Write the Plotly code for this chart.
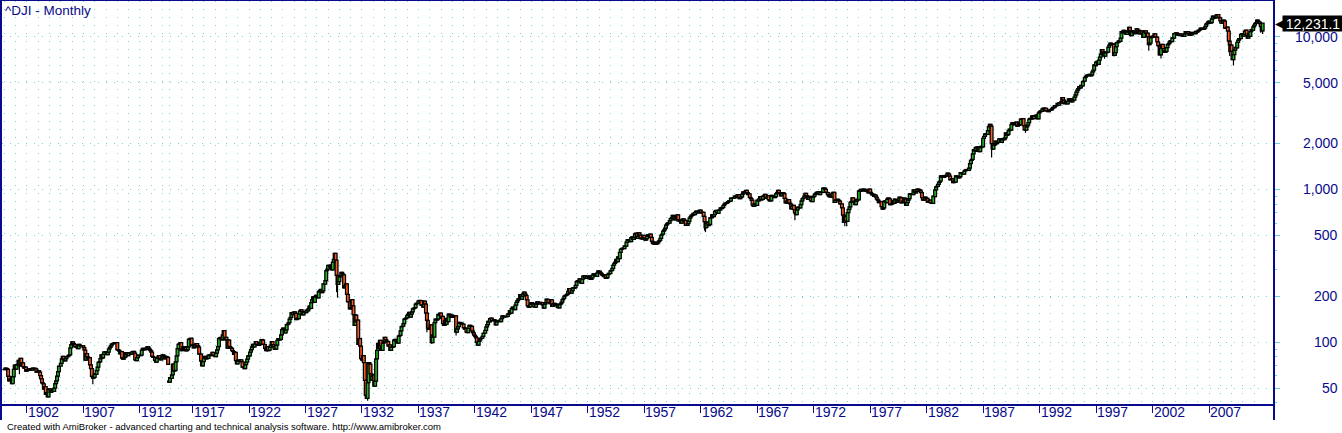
import math
import plotly.graph_objects as go

# ---------------- DATA (monthly closes of ^DJI, read/estimated from the chart) ----------------
close_1900s = [
    66.0, 67.5, 67.0, 66.2, 59.6, 55.8, 56.9, 57.5, 53.5, 59.3, 66.3, 70.7,      # 1900
    66.5, 71.0, 71.5, 75.9, 69.8, 78.3, 71.0, 73.0, 69.0, 67.5, 68.5, 64.6,      # 1901
    66.0, 65.3, 66.3, 66.8, 66.3, 65.5, 67.4, 67.0, 67.3, 66.8, 63.5, 64.3,      # 1902
    65.0, 63.5, 60.2, 57.5, 54.0, 53.3, 49.2, 51.0, 45.5, 46.6, 43.8, 49.1,      # 1903
    49.3, 46.8, 48.0, 48.5, 47.5, 50.0, 53.5, 55.8, 59.9, 64.0, 69.6, 69.6,      # 1904
    72.5, 77.6, 80.5, 77.0, 75.4, 77.9, 80.2, 80.2, 81.6, 82.5, 91.5, 96.2,      # 1905
    100.2, 97.8, 96.2, 93.5, 92.6, 92.5, 90.5, 96.7, 94.8, 94.6, 94.5, 94.4,     # 1906
    92.0, 88.5, 76.2, 84.0, 80.0, 77.5, 79.0, 71.0, 67.0, 59.6, 58.0, 58.8,      # 1907
    62.0, 61.5, 65.0, 68.5, 73.5, 74.5, 77.8, 82.5, 78.9, 83.0, 86.2, 86.2,      # 1908
    86.5, 82.7, 85.8, 90.2, 92.4, 94.5, 96.8, 97.8, 97.9, 99.0, 98.9, 99.1,      # 1909
]
close_1910s = [
    89.0, 88.5, 87.1, 83.7, 86.5, 78.5, 77.2, 79.2, 79.9, 85.2, 83.0, 81.4,      # 1910
    85.0, 85.2, 84.0, 83.2, 86.5, 86.8, 84.5, 76.5, 75.6, 79.0, 82.0, 81.7,      # 1911
    81.5, 82.0, 88.4, 91.0, 89.5, 89.0, 89.5, 91.5, 93.5, 91.2, 89.5, 87.9,      # 1912
    86.0, 80.5, 79.5, 79.5, 76.0, 74.0, 78.5, 79.5, 81.5, 78.0, 76.5, 78.8,      # 1913
    82.5, 81.0, 80.9, 77.5, 80.0, 79.5, 71.4, 54.6,                              # 1914 (Jan-Jul, Dec)
    58.5, 57.8, 61.0, 71.8, 64.5, 65.2, 74.3, 81.2, 90.6, 96.5, 97.5, 99.2,      # 1915
    88.0, 90.0, 93.5, 89.0, 92.5, 87.7, 89.0, 93.0, 104.0, 105.0, 105.9, 95.0,   # 1916
    95.5, 91.5, 96.7, 93.5, 97.5, 94.8, 92.5, 83.4, 83.5, 75.0, 69.9, 74.4,      # 1917
    78.5, 80.6, 77.5, 78.8, 78.1, 82.2, 81.5, 82.5, 83.0, 85.5, 81.5, 82.2,      # 1918
    80.3, 84.6, 89.0, 93.5, 105.5, 106.9, 107.2, 103.5, 111.4, 118.9, 103.6, 107.2,  # 1919
]
close_1920s = [
    103.9, 91.2, 102.8, 93.5, 91.8, 91.0, 87.8, 86.7, 82.9, 85.7, 75.5, 71.95,   # 1920
    76.1, 74.8, 75.8, 76.3, 74.2, 68.5, 68.4, 67.1, 71.1, 73.9, 77.3, 81.1,      # 1921
    81.3, 85.8, 89.1, 93.0, 96.4, 92.9, 96.4, 100.8, 96.6, 96.1, 95.2, 98.7,     # 1922
    96.9, 103.9, 102.8, 96.6, 96.3, 91.0, 88.0, 93.5, 87.9, 88.5, 92.7, 95.5,    # 1923
    100.7, 96.3, 93.2, 89.8, 89.9, 95.6, 102.6, 105.2, 103.2, 104.1, 111.4, 120.5,  # 1924
    123.6, 121.2, 115.0, 120.0, 129.9, 131.0, 133.8, 141.2, 145.0, 155.6, 151.1, 156.7,  # 1925
    157.4, 154.2, 140.5, 143.0, 142.3, 152.6, 159.6, 162.5, 158.2, 150.4, 156.6, 157.2,  # 1926
    155.7, 161.9, 160.1, 165.0, 172.0, 166.2, 181.4, 189.8, 197.6, 181.6, 197.7, 202.4,  # 1927
    198.9, 194.6, 213.5, 216.9, 220.9, 210.8, 216.0, 240.4, 239.4, 252.2, 293.4, 300.0,  # 1928
    317.5, 317.4, 308.9, 319.3, 297.4, 333.8, 347.7, 380.3, 343.5, 273.5, 238.95, 248.5,  # 1929
]
close_1930s = [
    267.1, 271.1, 286.1, 279.2, 275.1, 226.3, 233.5, 240.4, 204.9, 183.4, 183.4, 164.6,  # 1930
    167.6, 189.7, 172.4, 151.2, 128.5, 150.2, 135.4, 139.4, 96.6, 105.4, 93.9, 78.0,  # 1931
    76.2, 81.4, 73.3, 56.1, 44.7, 42.8, 54.3, 73.2, 71.6, 61.9, 56.4, 59.9,      # 1932
    60.9, 51.4, 55.4, 77.7, 88.1, 98.1, 90.8, 102.4, 94.0, 88.2, 98.1, 99.9,     # 1933
    107.2, 103.5, 101.2, 100.5, 94.0, 95.7, 88.1, 93.0, 92.6, 93.5, 103.0, 104.0,  # 1934
    101.7, 100.8, 98.3, 109.5, 110.6, 118.2, 126.2, 127.0, 131.9, 141.5, 142.3, 144.1,  # 1935
    149.5, 152.5, 156.3, 145.7, 152.6, 157.7, 164.9, 166.3, 167.8, 177.2, 179.4, 179.9,  # 1936
    185.7, 187.2, 186.4, 174.3, 174.7, 169.3, 185.5, 177.4, 154.6, 138.6, 123.5, 121.0,  # 1937
    121.9, 129.6, 99.0, 111.2, 107.7, 133.9, 141.2, 139.3, 141.5, 151.7, 149.8, 154.8,  # 1938
    143.3, 147.3, 131.8, 128.5, 138.0, 130.6, 143.0, 136.0, 152.5, 151.0, 145.7, 150.2,  # 1939
]
close_1940s = [
    145.3, 146.5, 147.5, 148.4, 116.2, 121.9, 126.1, 134.4, 132.6, 133.3, 131.0, 131.1,  # 1940
    124.1, 121.8, 122.7, 116.0, 115.3, 123.1, 128.8, 127.4, 126.8, 117.8, 114.7, 110.96,  # 1941
    109.1, 106.6, 99.5, 95.4, 100.9, 103.3, 105.7, 106.3, 109.1, 114.1, 114.5, 119.4,  # 1942
    125.6, 130.0, 136.6, 135.5, 142.1, 143.4, 137.9, 137.9, 140.1, 138.3, 129.6, 135.9,  # 1943
    137.4, 136.3, 138.8, 136.2, 142.2, 148.4, 146.1, 147.0, 146.7, 146.5, 147.3, 152.3,  # 1944
    153.8, 160.4, 154.4, 165.4, 169.1, 165.3, 162.9, 174.3, 181.7, 186.6, 191.5, 192.9,  # 1945
    204.7, 190.1, 199.6, 206.8, 212.5, 205.6, 201.6, 189.2, 172.4, 169.2, 169.8, 177.2,  # 1946
    181.0, 178.9, 177.2, 170.6, 169.3, 177.3, 183.2, 178.9, 177.5, 181.8, 179.4, 181.2,  # 1947
    175.1, 167.0, 177.2, 180.9, 190.7, 189.5, 181.3, 181.7, 178.3, 188.6, 171.2, 177.3,  # 1948
    179.1, 173.1, 177.1, 174.2, 168.4, 167.4, 175.9, 178.7, 182.5, 189.5, 193.0, 200.1,  # 1949
]
close_1950s = [
    201.8, 203.4, 206.1, 214.3, 223.4, 209.1, 209.4, 216.9, 226.4, 225.0, 227.6, 235.4,  # 1950
    248.8, 252.1, 247.9, 259.1, 249.7, 242.6, 257.9, 270.3, 271.2, 262.4, 261.3, 269.2,  # 1951
    270.7, 260.1, 269.5, 257.6, 262.9, 274.3, 279.6, 275.0, 271.0, 269.2, 283.7, 291.9,  # 1952
    289.8, 284.3, 279.9, 274.8, 272.3, 268.3, 275.4, 261.2, 264.0, 276.0, 281.4, 280.9,  # 1953
    292.4, 294.5, 303.5, 319.3, 327.5, 333.5, 347.9, 335.8, 360.5, 352.1, 386.8, 404.4,  # 1954
    408.8, 411.9, 409.7, 425.7, 424.9, 451.4, 465.9, 468.2, 466.6, 454.9, 483.3, 488.4,  # 1955
    470.7, 483.7, 511.8, 516.1, 478.1, 492.8, 517.8, 502.0, 475.3, 479.9, 472.8, 499.5,  # 1956
    479.2, 464.6, 474.8, 494.4, 504.9, 503.3, 508.5, 484.4, 456.3, 441.0, 449.9, 435.7,  # 1957
    450.0, 439.9, 446.8, 455.9, 462.7, 478.2, 502.0, 508.6, 532.1, 543.2, 557.5, 583.7,  # 1958
    594.0, 603.5, 601.7, 623.8, 643.8, 650.0, 674.9, 664.4, 631.7, 646.6, 659.2, 679.4,  # 1959
]
close_1960s = [
    622.6, 630.1, 616.6, 601.7, 625.5, 640.6, 616.7, 626.0, 580.1, 580.4, 597.2, 615.9,  # 1960
    648.2, 662.1, 676.6, 678.7, 696.7, 684.0, 705.4, 719.9, 701.2, 703.9, 721.6, 731.1,  # 1961
    700.0, 708.1, 707.0, 665.3, 613.4, 561.3, 597.9, 609.2, 579.0, 589.8, 649.3, 652.1,  # 1962
    682.9, 662.9, 682.5, 717.7, 727.0, 706.9, 695.4, 729.3, 732.8, 755.2, 750.5, 763.0,  # 1963
    785.3, 800.1, 813.3, 810.8, 820.6, 831.5, 841.1, 838.5, 875.4, 873.1, 875.4, 874.1,  # 1964
    902.9, 903.5, 889.1, 922.3, 918.0, 868.0, 881.7, 893.1, 930.6, 960.8, 946.7, 969.3,  # 1965
    983.5, 951.9, 924.8, 933.7, 884.1, 870.1, 847.4, 788.4, 774.2, 807.1, 791.6, 785.7,  # 1966
    849.9, 839.4, 866.0, 897.1, 852.6, 860.3, 904.2, 901.3, 926.7, 879.7, 875.8, 905.1,  # 1967
    855.5, 840.5, 840.7, 912.2, 899.0, 897.8, 883.0, 896.0, 935.8, 952.4, 985.1, 943.8,  # 1968
    946.1, 905.2, 935.5, 950.2, 937.6, 873.2, 815.5, 836.7, 813.1, 856.0, 812.3, 800.4,  # 1969
]
close_1970s = [
    744.1, 777.6, 785.6, 736.1, 700.4, 683.5, 734.1, 764.6, 760.7, 755.6, 794.1, 838.9,  # 1970
    868.5, 878.8, 904.4, 941.8, 907.8, 891.1, 858.4, 898.1, 887.2, 839.0, 831.3, 890.2,  # 1971
    902.2, 928.1, 940.7, 954.2, 960.7, 929.0, 924.7, 963.7, 953.3, 955.5, 1018.2, 1020.0,  # 1972
    999.0, 955.1, 951.0, 921.4, 901.4, 891.7, 926.4, 887.6, 947.1, 956.6, 822.3, 850.9,  # 1973
    855.6, 860.5, 846.7, 836.8, 802.2, 802.4, 757.4, 678.6, 607.9, 665.5, 618.7, 616.2,  # 1974
    703.7, 739.1, 768.2, 821.3, 832.3, 879.0, 831.5, 835.3, 793.9, 836.0, 860.7, 852.4,  # 1975
    975.3, 972.6, 999.5, 996.9, 975.2, 1002.8, 984.6, 973.7, 990.2, 964.9, 947.2, 1004.7,  # 1976
    954.4, 936.4, 919.1, 926.9, 898.7, 916.3, 890.1, 861.5, 847.1, 818.4, 829.7, 831.2,  # 1977
    769.9, 742.1, 757.4, 837.3, 840.6, 819.0, 862.3, 876.8, 865.8, 792.5, 799.0, 805.0,  # 1978
    839.2, 808.8, 862.2, 854.9, 822.3, 842.0, 846.4, 887.6, 878.6, 815.7, 822.4, 838.7,  # 1979
]
close_1980s = [
    875.9, 863.1, 785.8, 817.1, 850.9, 867.9, 935.3, 932.6, 932.4, 924.5, 993.3, 964.0,  # 1980
    947.3, 974.6, 1003.9, 997.8, 991.8, 976.9, 952.3, 881.5, 850.0, 852.6, 889.0, 875.0,  # 1981
    871.1, 824.4, 822.8, 848.4, 819.5, 811.9, 808.6, 901.3, 896.3, 991.7, 1039.3, 1046.5,  # 1982
    1075.7, 1112.6, 1130.0, 1226.2, 1200.0, 1222.0, 1199.2, 1216.2, 1233.1, 1225.2, 1276.0, 1258.6,  # 1983
    1220.6, 1154.6, 1164.9, 1170.8, 1104.9, 1132.4, 1115.3, 1224.4, 1206.7, 1207.4, 1188.9, 1211.6,  # 1984
    1286.8, 1284.0, 1266.8, 1258.1, 1315.4, 1335.5, 1347.5, 1334.0, 1328.6, 1374.3, 1472.1, 1546.7,  # 1985
    1571.0, 1709.1, 1818.6, 1784.0, 1876.7, 1892.7, 1775.3, 1898.3, 1767.6, 1877.8, 1914.2, 1896.0,  # 1986
    2158.0, 2224.0, 2304.7, 2286.4, 2291.6, 2418.5, 2572.1, 2663.0, 2596.3, 1993.5, 1833.6, 1938.8,  # 1987
    1958.2, 2071.6, 1988.1, 2032.3, 2031.1, 2141.7, 2128.7, 2031.7, 2112.9, 2148.7, 2114.5, 2168.6,  # 1988
    2342.3, 2258.4, 2293.6, 2418.8, 2480.2, 2440.1, 2660.7, 2737.3, 2692.8, 2645.1, 2706.3, 2753.2,  # 1989
]
close_1990s = [
    2590.5, 2627.3, 2707.2, 2656.8, 2876.7, 2880.7, 2905.2, 2614.4, 2452.5, 2442.3, 2559.7, 2633.7,  # 1990
    2736.4, 2882.2, 2913.9, 2887.9, 3027.5, 2906.8, 3024.8, 3043.6, 3016.8, 3069.1, 2895.0, 3168.8,  # 1991
    3223.4, 3267.7, 3235.5, 3359.1, 3396.9, 3318.5, 3393.8, 3257.4, 3271.7, 3226.3, 3305.2, 3301.1,  # 1992
    3310.0, 3370.8, 3435.1, 3427.6, 3527.4, 3516.1, 3539.5, 3651.3, 3555.1, 3680.6, 3684.0, 3754.1,  # 1993
    3978.4, 3832.0, 3636.0, 3681.7, 3758.4, 3625.0, 3764.5, 3913.4, 3843.2, 3908.1, 3739.2, 3834.4,  # 1994
    3843.9, 4011.1, 4157.7, 4321.3, 4465.1, 4556.1, 4708.5, 4610.6, 4789.1, 4755.5, 5074.5, 5117.1,  # 1995
    5395.3, 5485.6, 5587.1, 5569.1, 5643.2, 5654.6, 5528.9, 5616.2, 5882.2, 6029.4, 6521.7, 6448.3,  # 1996
    6813.1, 6877.7, 6583.5, 7009.0, 7331.0, 7672.8, 8222.6, 7622.4, 7945.3, 7442.1, 7823.1, 7908.3,  # 1997
    7906.5, 8545.7, 8799.8, 9063.4, 8900.0, 8952.0, 8883.3, 7539.1, 7842.6, 8592.1, 9116.6, 9181.4,  # 1998
    9358.8, 9306.6, 9786.2, 10789.0, 10559.7, 10970.8, 10655.2, 10829.3, 10337.0, 10729.9, 10877.8, 11497.1,  # 1999
]
close_2000s = [
    10940.5, 10128.3, 10921.9, 10733.9, 10522.3, 10447.9, 10522.0, 11215.1, 10650.9, 10971.1, 10414.5, 10788.0,  # 2000
    10887.4, 10495.3, 9878.8, 10735.0, 10911.9, 10502.4, 10522.8, 9949.8, 8847.6, 9075.1, 9851.6, 10021.5,  # 2001
    9920.0, 10106.1, 10403.9, 9946.2, 9925.3, 9243.3, 8736.6, 8663.5, 7591.9, 8397.0, 8896.1, 8341.6,  # 2002
    8053.8, 7891.1, 7992.1, 8480.1, 8850.3, 8985.4, 9233.8, 9415.8, 9275.1, 9801.1, 9782.5, 10453.9,  # 2003
    10488.1, 10583.9, 10357.7, 10225.6, 10188.5, 10435.5, 10139.7, 10173.9, 10080.3, 10027.5, 10428.0, 10783.0,  # 2004
    10489.9, 10766.2, 10503.8, 10192.5, 10467.5, 10275.0, 10640.9, 10481.6, 10568.7, 10440.1, 10805.9, 10717.5,  # 2005
    10864.9, 10993.4, 11109.3, 11367.1, 11168.3, 11150.2, 11185.7, 11381.2, 11679.1, 12080.7, 12221.9, 12463.2,  # 2006
    12621.7, 12268.6, 12354.4, 13062.9, 13627.6, 13408.6, 13212.0, 13357.7, 13895.6, 13930.0, 13371.7, 13264.8,  # 2007
    12650.4, 12266.4, 12262.9, 12820.1, 12638.3, 11350.0, 11378.0, 11543.6, 10850.7, 9325.0, 8829.0, 8776.4,  # 2008
    8000.9, 7062.9, 7608.9, 8168.1, 8500.3, 8447.0, 9171.6, 9496.3, 9712.3, 9712.7, 10344.8, 10428.1,  # 2009
]
close_2010s = [
    10067.3, 10325.3, 10856.6, 11008.6, 10136.6, 9774.0, 10465.9, 10014.7, 10788.1, 11118.5, 11006.0, 11577.5,  # 2010
    11891.9, 12226.3, 12319.7, 12810.5, 12569.8, 12414.3, 12143.2, 11613.5, 10913.4, 12231.1,  # 2011 (to Oct)
]

# opens that do not equal the prior month's close (series start, 1914 re-opening)
open_override_months = ["1900-01", "1914-12"]
open_override_values = [66.1, 55.6]

# visible wick extremes (monthly lows)
wick_months = ["1901-05", "1907-03", "1907-11", "1929-10", "1929-11", "1932-07",
               "1937-10", "1938-03", "1940-05", "1962-05", "1962-06", "1970-05",
               "1974-10", "1974-12", "1987-10", "1990-10", "1997-10", "1998-08",
               "2001-09", "2002-07", "2002-10", "2008-10", "2008-11", "2009-03",
               "2010-05", "2011-08", "2011-10"]
wick_lows = [61.6, 75.4, 53.0, 212.3, 195.4, 41.2,
             115.8, 97.5, 110.5, 535.8, 524.6, 627.5,
             573.2, 572.2, 1616.2, 2344.3, 7161.1, 7400.3,
             8062.3, 7532.7, 7197.5, 7882.5, 7449.4, 6470.0,
             9869.6, 10604.1, 10404.5]

tick_years = list(range(1902, 2011, 5))
y_major = [50, 100, 200, 500, 1000, 2000, 5000, 10000]
last_label = "12,231.1"
title_text = "^DJI - Monthly"
footer_text = ("Created with AmiBroker - advanced charting and technical analysis "
               "software. http://www.amibroker.com")

# ---------------- BUILD ----------------
months = []
for yr in range(1900, 2012):
    for mo in range(1, 13):
        if yr == 1914 and 8 <= mo <= 11:
            continue  # NYSE closed
        if yr == 2011 and mo > 10:
            continue
        months.append(f"{yr}-{mo:02d}")

close = (close_1900s + close_1910s + close_1920s + close_1930s + close_1940s +
         close_1950s + close_1960s + close_1970s + close_1980s + close_1990s +
         close_2000s + close_2010s)
assert len(close) == len(months), (len(close), len(months))

idx = list(range(len(months)))
opens = [None] + close[:-1]
for m, v in zip(open_override_months, open_override_values):
    opens[months.index(m)] = v

body_lo = [min(o, c) for o, c in zip(opens, close)]
body_hi = [max(o, c) for o, c in zip(opens, close)]
lows = list(body_lo)
for m, v in zip(wick_months, wick_lows):
    lows[months.index(m)] = v

NAVY = "#0A0A8C"
GRID = "#6CD8D8"
TICKC = "#6CCFE0"
UP = "#22B522"
DOWN = "#FF5A1F"

fig = go.Figure()

# wicks
wx, wy = [], []
for i in idx:
    if lows[i] < body_lo[i]:
        wx += [i, i, None]
        wy += [lows[i], body_lo[i], None]
fig.add_trace(go.Scatter(x=wx, y=wy, mode="lines", line=dict(color="black", width=1.2),
                         hoverinfo="skip"))

# candle bodies
fig.add_trace(go.Bar(
    x=idx,
    y=[h - l for h, l in zip(body_hi, body_lo)],
    base=body_lo,
    width=3.0,
    marker=dict(color=[UP if c >= o else DOWN for o, c in zip(opens, close)],
                line=dict(color="black", width=1.25)),
    hoverinfo="skip",
))

jan_idx = {int(m[:4]): i for i, m in enumerate(months) if m.endswith("-01")}
major_x = [jan_idx[y] for y in tick_years]
minor_x = [i for y, i in jan_idx.items() if y not in tick_years]

y_minor = [n * 10 ** k for k in range(1, 5) for n in range(1, 10)
           if n not in (1, 2, 5) and 39 < n * 10 ** k < 17000]

W, H = 1342, 433
ML, MR, MT, MB = 2, 69, 1, 29
PW, PH = W - ML - MR, H - MT - MB

fig.update_layout(
    width=W, height=H, autosize=False,
    margin=dict(l=ML, r=MR, t=MT, b=MB),
    paper_bgcolor="white", plot_bgcolor="white",
    showlegend=False, barmode="overlay", bargap=0,
    font=dict(family="Liberation Sans, Arial, sans-serif", color=NAVY),
    xaxis=dict(
        range=[-2.5, 1348], tickmode="array", tickvals=major_x,
        showticklabels=False,
        ticks="outside", ticklen=7, tickwidth=1, tickcolor=NAVY,
        showgrid=True, gridcolor=GRID, griddash="1px,7px", gridwidth=1,
        showline=True, linecolor=NAVY, linewidth=2, mirror=True,
        zeroline=False, fixedrange=True, automargin=False,
        minor=dict(tickmode="array", tickvals=minor_x, ticks="", showgrid=True,
                   gridcolor=GRID, griddash="1px,7px", gridwidth=1),
    ),
    yaxis=dict(
        type="log", side="right", range=[math.log10(39.3), math.log10(17100)],
        tickmode="array", tickvals=y_major, showticklabels=False,
        ticks="outside", ticklen=5, tickwidth=1, tickcolor=TICKC,
        showgrid=True, gridcolor=GRID, griddash="1px,7px", gridwidth=1,
        showline=True, linecolor=NAVY, linewidth=2, mirror=True,
        zeroline=False, fixedrange=True, automargin=False,
        minor=dict(tickmode="array", tickvals=y_minor, ticks="outside", ticklen=2,
                   tickcolor=TICKC, showgrid=False),
    ),
)

ann = []
# x-axis year labels, placed to the right of their tick like the reference
for y, xv in zip(tick_years, major_x):
    ann.append(dict(text=str(y), xref="x", yref="paper", x=xv, y=-(412 - (H - MB)) / PH,
                    xanchor="left", yanchor="middle", xshift=-1, showarrow=False,
                    font=dict(size=14, color=NAVY)))
# y-axis labels, right aligned
for v in y_major:
    ann.append(dict(text=f"{v:,}", xref="paper", yref="y",
                    x=1 + (1340 - (W - MR)) / PW, y=math.log10(v),
                    xanchor="right", yanchor="middle", showarrow=False,
                    font=dict(size=14, color=NAVY)))
ann.append(dict(text=title_text, xref="paper", yref="paper", x=1 / PW, y=1,
                xanchor="left", yanchor="top", showarrow=False,
                font=dict(size=13.5, color=NAVY)))
ann.append(dict(text=footer_text, xref="paper", yref="paper", x=3 / PW,
                y=-(426 - (H - MB)) / PH, xanchor="left", yanchor="middle",
                showarrow=False, font=dict(size=9.5, color="black")))
# last-value tag: pointed tip + black box with white value
ann.append(dict(text="\u25C0", xref="paper", yref="y",
                x=1 + (1274 - (W - MR)) / PW, y=math.log10(close[-1]),
                xanchor="left", yanchor="middle", showarrow=False, borderpad=0,
                font=dict(size=17, color="black", family="DejaVu Sans")))
ann.append(dict(text=last_label, xref="paper", yref="y",
                x=1 + (1282 - (W - MR)) / PW, y=math.log10(close[-1]),
                xanchor="left", yanchor="middle", showarrow=False,
                bgcolor="black", borderpad=0, width=60, height=15, align="center",
                font=dict(size=14, color="white")))
fig.update_layout(annotations=ann)

shapes = [
    # frame extensions below the x axis
    dict(type="line", xref="paper", yref="paper", x0=-1 / PW, x1=-1 / PW,
         y0=0, y1=-(420 - (H - MB)) / PH, line=dict(color=NAVY, width=2)),
    dict(type="line", xref="paper", yref="paper", x0=1 + 1 / PW, x1=1 + 1 / PW,
         y0=0, y1=-(420 - (H - MB)) / PH, line=dict(color=NAVY, width=2)),
]
fig.update_layout(shapes=shapes)

fig.write_html("out.html", config={"displayModeBar": False, "staticPlot": True},
               post_script="document.body.style.margin='0';"
                           "document.body.style.overflow='hidden';")
